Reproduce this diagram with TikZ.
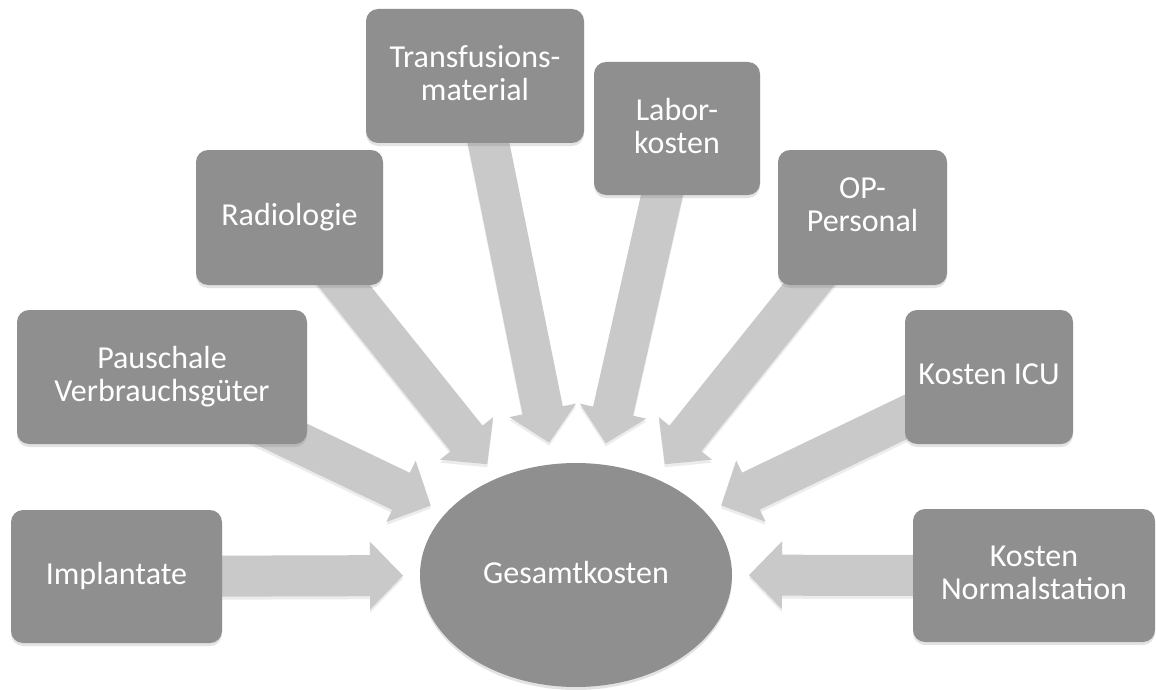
\documentclass[tikz,border=0pt]{standalone}
\usepackage{fontspec}
\setmainfont{Carlito}
\usetikzlibrary{calc,shapes.geometric,shadows}
\definecolor{boxgray}{RGB}{143,143,143}
\definecolor{arrowgray}{RGB}{201,201,201}
\pgfdeclarelayer{bgpaper}
\pgfdeclarelayer{bg}
\pgfsetlayers{bgpaper,bg,main}
\newcommand\lst{\rule[-6.2pt]{0pt}{26.8pt}}
\newcommand\blockarrow[3]{%
  \coordinate (tipT) at ($(#2.center)!#3!(#1.center)$);
  \coordinate (baseB) at ($(tipT)!33pt!(#1.center)$);
  \fill[arrowshape]
    ($(#1.center)!20.5pt!90:(tipT)$) --
    ($(baseB)!20.5pt!90:(tipT)$) --
    ($(baseB)!34pt!90:(tipT)$) --
    (tipT) --
    ($(baseB)!34pt!-90:(tipT)$) --
    ($(baseB)!20.5pt!-90:(tipT)$) --
    ($(#1.center)!20.5pt!-90:(tipT)$) -- cycle;
}
\tikzset{
  box/.style={rectangle, rounded corners=12pt, fill=boxgray, text=white,
    align=center, inner sep=0pt, font=\fontsize{32}{33}\selectfont,
    drop shadow={opacity=.22, shadow xshift=0pt, shadow yshift=-3pt}},
  hub/.style={ellipse, fill=boxgray, text=white, inner sep=0pt,
    font=\fontsize{32}{33}\selectfont,
    drop shadow={opacity=.22, shadow xshift=0pt, shadow yshift=-3pt}},
  arrowshape/.style={fill=arrowgray,
    drop shadow={opacity=.15, shadow xshift=0pt, shadow yshift=-3pt}}
}
\begin{document}
\begin{tikzpicture}[x=1pt,y=-1pt]
\begin{pgfonlayer}{bgpaper}
\fill[white] (0,0) rectangle (1156,690);
\end{pgfonlayer}
\useasboundingbox (0,0) rectangle (1156,690);

\node[hub, minimum width=312pt, minimum height=224pt] (g) at (576,575) {\lst Gesamtkosten};

\node[box, minimum width=211pt, minimum height=133pt] (imp) at (116.5,576.5) {\lst Implantate};
\node[box, minimum width=290pt, minimum height=134pt] (pau) at (162,377) {\lst Pauschale\\\lst Verbrauchsgüter};
\node[box, minimum width=187pt, minimum height=135pt] (rad) at (289.5,217.5) {\lst Radiologie};
\node[box, minimum width=218pt, minimum height=134pt] (tra) at (475,76) {\lst Transfusions-\\\lst material};
\node[box, minimum width=166pt, minimum height=133pt] (lab) at (677,128.5) {\lst Labor-\\\lst kosten};
\node[box, minimum width=169pt, minimum height=135pt] (op) at (862.5,217.5) {\lst OP-\\\rule[-26.2pt]{0pt}{26.8pt}Personal};
\node[box, minimum width=168pt, minimum height=134pt] (icu) at (989,377) {\lst Kosten ICU};
\node[box, minimum width=242pt, minimum height=133pt] (nor) at (1034,575.5) {\lst Kosten\\\lst Normalstation};

\begin{pgfonlayer}{bg}
\blockarrow{imp}{g}{173pt}
\blockarrow{pau}{g}{161pt}
\blockarrow{rad}{g}{142pt}
\blockarrow{tra}{g}{135pt}
\blockarrow{lab}{g}{135pt}
\blockarrow{op}{g}{142pt}
\blockarrow{icu}{g}{161pt}
\blockarrow{nor}{g}{173pt}
\end{pgfonlayer}
\end{tikzpicture}
\end{document}
